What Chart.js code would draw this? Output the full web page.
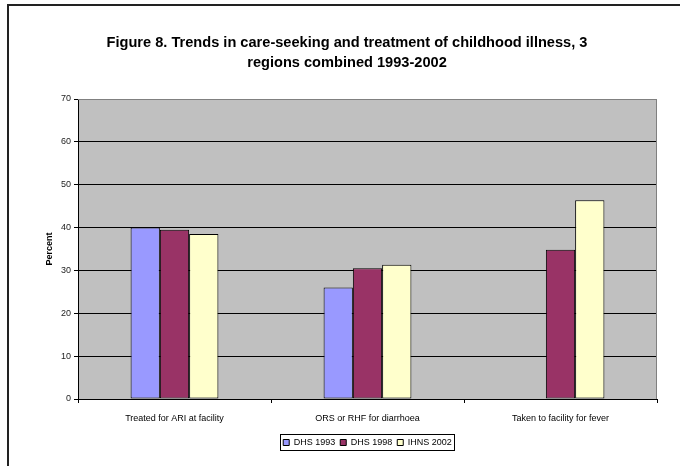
<!DOCTYPE html>
<html>
<head>
<meta charset="utf-8">
<script src="https://cdn.jsdelivr.net/npm/chart.js@4/dist/chart.umd.min.js"></script>
<style>
html, body { margin: 0; padding: 0; background: #fff; }
#wrap { position: relative; width: 680px; height: 466px; }
#wrap:before { content: ''; position: absolute; left: 7px; top: 4px; right: 0; bottom: 0;
  border-top: 2px solid #222; border-left: 2px solid #222; pointer-events: none; }
canvas { display: block; }
</style>
</head>
<body>
<div id="wrap"><canvas id="c" width="680" height="466"></canvas></div>
<script>
// Figure 8 - care-seeking and treatment, 3 regions combined

const categories = ['Treated for ARI at facility', 'ORS or RHF for diarrhoea', 'Taken to facility for fever'];
const seriesNames = ['DHS 1993', 'DHS 1998', 'IHNS 2002'];
const dhs1993 = [40, 26, null];
const dhs1998 = [39.5, 30.5, 34.8];
const ihns2002 = [38.5, 31.3, 46.4];
const yTicks = [0, 10, 20, 30, 40, 50, 60, 70];
const titleLines = ['Figure 8. Trends in care-seeking and treatment of childhood illness, 3', 'regions combined 1993-2002'];

const FONT = 'Arial, "Liberation Sans", sans-serif';

// grey plot background + right/top frame
const plotFrame = {
    id: 'plotFrame',
    beforeDraw(chart) {
        const a = chart.chartArea, ctx = chart.ctx;
        ctx.save();
        ctx.fillStyle = '#c0c0c0';
        ctx.fillRect(a.left, a.top, a.right - a.left, a.bottom - a.top);
        ctx.restore();
    },
    afterDraw(chart) {
        const a = chart.chartArea, ctx = chart.ctx;
        ctx.save();
        ctx.strokeStyle = '#808080';
        ctx.lineWidth = 1;
        ctx.beginPath();
        ctx.moveTo(a.left, a.top + 0.5);
        ctx.lineTo(a.right - 0.5, a.top + 0.5);
        ctx.lineTo(a.right - 0.5, a.bottom);
        ctx.stroke();
        ctx.restore();
    }
};

// two line title, centred on the outer frame rather than the canvas
const figTitle = {
    id: 'figTitle',
    afterDraw(chart) {
        const ctx = chart.ctx;
        ctx.save();
        ctx.fillStyle = '#000';
        ctx.font = 'bold 14.6px ' + FONT;
        ctx.textAlign = 'center';
        ctx.textBaseline = 'alphabetic';
        titleLines.forEach((line, i) => ctx.fillText(line, 347, 47 + i * 20));
        ctx.restore();
    }
};

// box round the legend items
const legendBorder = {
    id: 'legendBorder',
    afterDraw(chart) {
        const boxes = chart.legend && chart.legend.legendHitBoxes;
        if (!boxes || !boxes.length) return;
        const first = boxes[0], last = boxes[boxes.length - 1];
        const x0 = Math.round(first.left) - 2.5;
        const x1 = Math.round(last.left + last.width) + 2.5;
        const y0 = Math.round(first.top) - 3.5;
        const y1 = Math.round(first.top + first.height) + 3.5;
        const ctx = chart.ctx;
        ctx.save();
        ctx.strokeStyle = '#000';
        ctx.lineWidth = 1;
        ctx.strokeRect(x0, y0, x1 - x0, y1 - y0);
        ctx.restore();
    }
};

const colors = ['#9999ff', '#993366', '#ffffcc'];

new Chart(document.getElementById('c'), {
    type: 'bar',
    data: {
        labels: categories,
        datasets: [dhs1993, dhs1998, ihns2002].map((d, i) => ({
            label: seriesNames[i],
            data: d,
            backgroundColor: colors[i],
            borderColor: '#000',
            borderWidth: 1,
            borderSkipped: false,
            categoryPercentage: 0.455,
            barPercentage: 1
        }))
    },
    options: {
        responsive: false,
        animation: false,
        layout: { padding: { top: 99, left: 40, right: 23, bottom: 9 } },
        plugins: {
            title: { display: false },
            tooltip: { enabled: false },
            legend: {
                display: true,
                position: 'bottom',
                fullSize: false,
                labels: {
                    color: '#000',
                    font: { size: 9, family: FONT },
                    boxWidth: 6,
                    boxHeight: 6,
                    padding: 5
                }
            }
        },
        scales: {
            x: {
                grid: { display: true, drawOnChartArea: false, drawTicks: true, tickLength: 4, color: '#000' },
                border: { color: '#000' },
                ticks: { color: '#000', font: { size: 9, family: FONT }, padding: 10, maxRotation: 0 },
                afterFit(s) { s.height = 34; }
            },
            y: {
                min: 0,
                max: 70,
                afterBuildTicks(s) { s.ticks = yTicks.map(v => ({ value: v })); },
                grid: {
                    color: (c) => (c.tick && c.tick.value === 70) ? '#808080' : '#000',
                    tickColor: '#000',
                    tickLength: 4
                },
                border: { color: '#000' },
                ticks: { color: '#222', font: { size: 9, family: FONT }, padding: 3 },
                title: { display: true, text: 'Percent', color: '#000', font: { size: 9, weight: 'bold', family: FONT }, padding: 4 },
                afterFit(s) { s.width = 38; }
            }
        }
    },
    plugins: [plotFrame, figTitle, legendBorder]
});
</script>
</body>
</html>
